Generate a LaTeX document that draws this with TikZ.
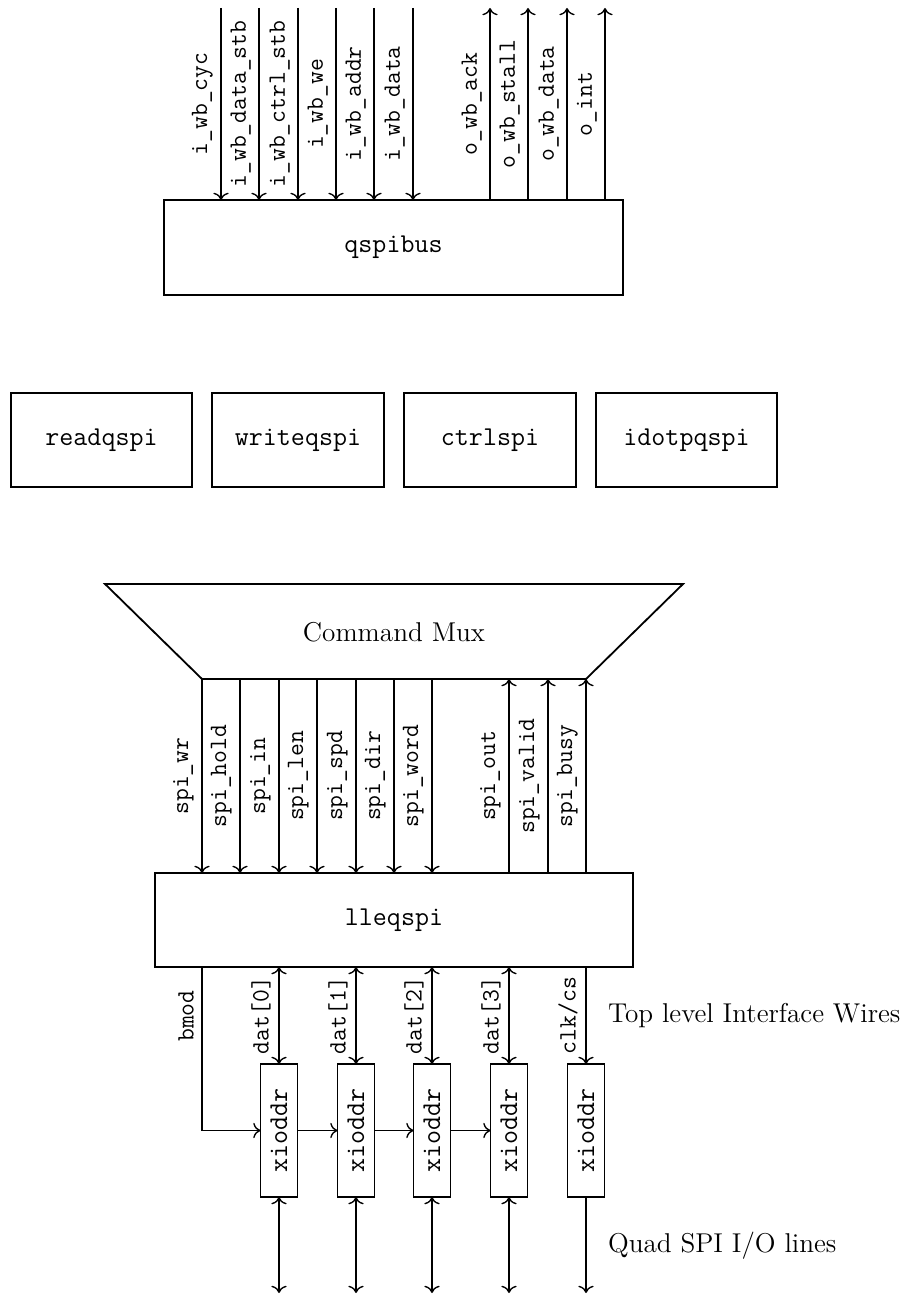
\documentclass[tikz,border=0pt]{standalone}
\usepackage{graphicx}
\usetikzlibrary{arrows.meta}
\newcommand\px{0.441pt}
\begin{document}
\begin{tikzpicture}[x=0.441pt,y=-0.441pt,>={To[scale=1.1]},
  box/.style={draw,line width=0.8pt,inner sep=0pt,outer sep=0pt,font=\fontsize{12}{14}\selectfont\ttfamily},
  sig/.style={line width=0.6pt},
  lab/.style={rotate=90,anchor=south,font=\fontsize{11}{13}\selectfont\ttfamily},
  note/.style={anchor=west,font=\fontsize{12}{14}\selectfont}]
\useasboundingbox (0,0) rectangle (902,1296);

% ---------- qspibus ----------
\node[box,minimum width=459*\px,minimum height=95*\px] (qspibus) at (393.5,247.5) {qspibus};
\foreach \x/\t [count=\i] in {221/i\_wb\_cyc,259/i\_wb\_data\_stb,298/i\_wb\_ctrl\_stb,336/i\_wb\_we,374/i\_wb\_addr,413/i\_wb\_data}{
  \coordinate (in\i) at (\x,8);
  \draw[sig,->] (in\i) -- (in\i |- qspibus.north) node[lab,midway]{\t};
}
\foreach \x/\t [count=\i] in {490/o\_wb\_ack,528/o\_wb\_stall,567/o\_wb\_data,605/o\_int}{
  \coordinate (out\i) at (\x,8);
  \draw[sig,->] (out\i |- qspibus.north) -- (out\i) node[lab,midway]{\t};
}

% ---------- command sources ----------
\node[box,minimum width=181*\px,minimum height=94*\px] (readqspi) at (101.5,440) {readqspi};
\node[box,minimum width=172*\px,minimum height=94*\px] (writeqspi) at (298,440) {writeqspi};
\node[box,minimum width=172*\px,minimum height=94*\px] (ctrlspi) at (490,440) {ctrlspi};
\node[box,minimum width=181*\px,minimum height=94*\px] (idotpqspi) at (686.5,440) {idotpqspi};

% ---------- command mux ----------
\coordinate (mtl) at (105,584);
\coordinate (mtr) at (683,584);
\coordinate (mbr) at (586,679);
\coordinate (mbl) at (202,679);
\draw[line width=0.8pt] (mtl) -- (mtr) -- (mbr) -- (mbl) -- cycle;
\node[font=\fontsize{12}{14}\selectfont] (mux) at (394,632) {Command Mux};

% ---------- lleqspi ----------
\node[box,minimum width=478*\px,minimum height=94*\px] (lleqspi) at (394,920) {lleqspi};
\foreach \x/\t [count=\i] in {202/spi\_wr,240/spi\_hold,279/spi\_in,317/spi\_len,356/spi\_spd,394/spi\_dir,432/spi\_word}{
  \coordinate (si\i) at (\x,679);
  \draw[sig,->] (si\i) -- (si\i |- lleqspi.north) node[lab,midway]{\t};
}
\foreach \x/\t [count=\i] in {509/spi\_out,548/spi\_valid,586/spi\_busy}{
  \coordinate (so\i) at (\x,679);
  \draw[sig,->] (so\i |- lleqspi.north) -- (so\i) node[lab,midway]{\t};
}

% ---------- xioddr ----------
\foreach \x [count=\i] in {279,356,432,509,586}{
  \node[box,minimum width=37*\px,minimum height=133*\px] (x\i) at (\x,1130.5) {\rotatebox{90}{xioddr}};
  \coordinate (b\i) at (\x,1293);
}
\foreach \i/\t in {1/{dat[0]},2/{dat[1]},3/{dat[2]},4/{dat[3]}}{
  \draw[sig,<->] (lleqspi.south -| x\i) -- (x\i.north) node[lab,midway]{\t};
  \draw[sig,<->] (x\i.south) -- (b\i);
}
\draw[sig,->] (lleqspi.south -| x5) -- (x5.north) node[lab,midway]{clk/cs};
\draw[sig,->] (x5.south) -- (b5);

\coordinate (bm) at (202,0);
\draw[sig,->] (lleqspi.south -| bm) -- node[lab,pos=0.3]{bmod} (bm |- x1.west) -- (x1.west);
\draw[sig,->] (x1.east) -- (x2.west);
\draw[sig,->] (x2.east) -- (x3.west);
\draw[sig,->] (x3.east) -- (x4.west);

% ---------- notes ----------
\node[note] (tlw) at (600,1016) {Top level Interface Wires};
\node[note] (qsl) at (600,1246) {Quad SPI I/O lines};
\end{tikzpicture}
\end{document}
